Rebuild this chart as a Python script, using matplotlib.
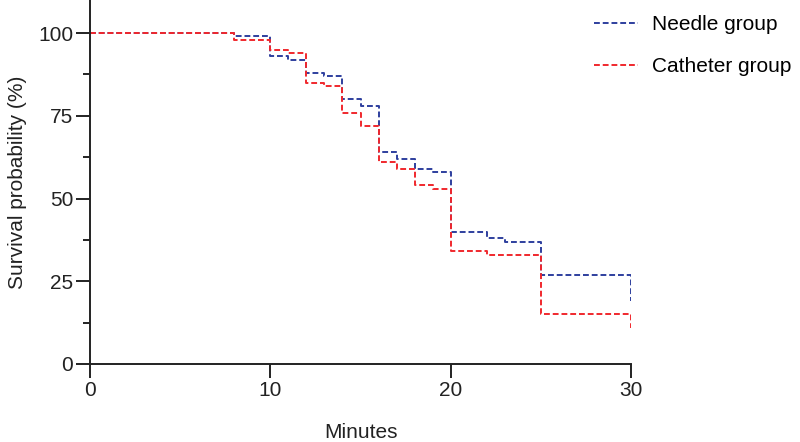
import matplotlib
matplotlib.use('Agg')
from matplotlib import pyplot as plt
from matplotlib.ticker import MultipleLocator

plt.rcParams['font.family'] = ['Liberation Sans', 'DejaVu Sans']

# Kaplan-Meier step values
needle_t = [0, 8, 10, 11, 12, 13, 14, 15, 16, 17, 18, 19, 20, 22, 23, 25, 30]
needle_s = [100, 99, 93, 92, 88, 87, 80, 78, 64, 62, 59, 58, 40, 38, 37, 27, 19]
catheter_t = [0, 8, 10, 11, 12, 13, 14, 15, 16, 17, 18, 19, 20, 22, 25, 30]
catheter_s = [100, 98, 95, 94, 85, 84, 76, 72, 61, 59, 54, 53, 34, 33, 15, 11]
x_ticks = [0, 10, 20, 30]
y_ticks = [0, 25, 50, 75, 100]

fig = plt.figure(figsize=(8, 4.42), dpi=100)
ax = fig.add_axes([0.1125, 0.1765, 0.6763, 0.8235])

ax.plot(needle_t, needle_s, drawstyle='steps-post', ls=(0, (3, 1.5)),
        color='#2e3f9e', lw=1.4, label='Needle group')
ax.plot(catheter_t, catheter_s, drawstyle='steps-post', ls=(0, (3, 1.5)),
        color='#f0282d', lw=1.4, label='Catheter group')

ax.set_xlim(0, 30)
ax.set_ylim(0, 110)
ax.set_xticks(x_ticks)
ax.set_yticks(y_ticks)
ax.yaxis.set_minor_locator(MultipleLocator(12.5))
for s in ['top', 'right']:
    ax.spines[s].set_visible(False)
for s in ['left', 'bottom']:
    ax.spines[s].set_linewidth(1.4)
    ax.spines[s].set_color('#222222')
ax.tick_params(which='major', direction='out', length=10, width=1.4, pad=2,
               labelsize=15, color='#222222', labelcolor='#222222')
ax.tick_params(which='minor', direction='out', length=5, width=1.4, color='#222222')
ax.set_xlabel('Minutes', fontsize=15, color='#222222', labelpad=17)
ax.set_ylabel('Survival probability (%)', fontsize=15, color='#222222', labelpad=8)

ax.legend(loc='upper left', bbox_to_anchor=(0.732, 0.985), bbox_transform=fig.transFigure,
          frameon=False, fontsize=15, handlelength=2.1, handletextpad=0.7,
          labelspacing=1.1, borderaxespad=0)

fig.savefig('out.png', dpi=100)
